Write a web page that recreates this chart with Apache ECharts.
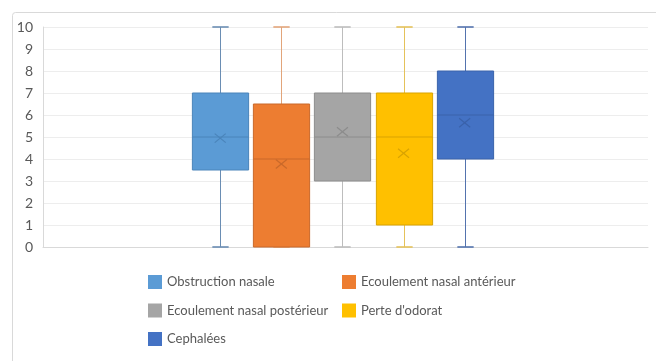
<!DOCTYPE html>
<html>
<head>
<meta charset="utf-8">
<script src="https://cdn.jsdelivr.net/npm/echarts@6/dist/echarts.min.js"></script>
<style>
html,body{margin:0;padding:0;background:#fff;}
#chart{width:656px;height:361px;}
</style>
</head>
<body>
<div id="chart"></div>
<script>
const categories = ['Obstruction nasale', 'Ecoulement nasal antérieur', 'Ecoulement nasal postérieur', "Perte d'odorat", 'Cephalées'];
const positions = [3, 4, 5, 6, 7];
const mins = [0, 0, 0, 0, 0];
const q1s = [3.5, 0, 3, 1, 4];
const medians = [5, 4, 5, 5, 6];
const q3s = [7, 6.5, 7, 7, 8];
const maxs = [10, 10, 10, 10, 10];
const means = [4.95, 3.77, 5.24, 4.26, 5.65];
const colors = ['#5B9BD5', '#ED7D31', '#A5A5A5', '#FFC000', '#4472C4'];
const borderColors = ['#4A84BA', '#C9692A', '#8C8C8C', '#D9A300', '#3A62AA'];
const whiskerColors = ['#6A8DB3', '#E2A57A', '#BDBDBD', '#E5C25A', '#5373AE'];
const yTicks = [0, 1, 2, 3, 4, 5, 6, 7, 8, 9, 10];

const chart = echarts.init(document.getElementById('chart'), null, {renderer: 'canvas'});

function makeRender(idx) {
  return function (params, api) {
    const x = api.value(0);
    const pMin = api.coord([x, api.value(1)]);
    const pQ1 = api.coord([x, api.value(2)]);
    const pMed = api.coord([x, api.value(3)]);
    const pQ3 = api.coord([x, api.value(4)]);
    const pMax = api.coord([x, api.value(5)]);
    const pMean = api.coord([x, api.value(6)]);
    const w = api.size([1, 0])[0] * 0.92;
    const cap = w * 0.29;
    const cx = Math.round(pMin[0]) + 0.5;
    const wc = whiskerColors[idx];
    const bc = borderColors[idx];
    const lineStyle = {stroke: wc, lineWidth: 1};
    const xs = 5.5, ys = 4.5;
    return {
      type: 'group',
      children: [
        {type: 'line', shape: {x1: cx, y1: pQ3[1], x2: cx, y2: pMax[1]}, style: lineStyle},
        {type: 'line', shape: {x1: cx, y1: pMin[1], x2: cx, y2: pQ1[1]}, style: lineStyle},
        {type: 'line', shape: {x1: cx - cap / 2, y1: pMax[1], x2: cx + cap / 2, y2: pMax[1]}, style: {stroke: wc, lineWidth: 1.6}},
        {type: 'line', shape: {x1: cx - cap / 2, y1: pMin[1], x2: cx + cap / 2, y2: pMin[1]}, style: {stroke: wc, lineWidth: 1.6}},
        {type: 'rect', shape: {x: cx - w / 2, y: pQ3[1], width: w, height: pQ1[1] - pQ3[1]},
          style: {fill: colors[idx], stroke: bc, lineWidth: 1}},
        {type: 'line', shape: {x1: cx - w / 2, y1: pMed[1], x2: cx + w / 2, y2: pMed[1]}, style: {stroke: bc, lineWidth: 1}},
        {type: 'line', shape: {x1: pMean[0] - xs, y1: pMean[1] - ys, x2: pMean[0] + xs, y2: pMean[1] + ys}, style: {stroke: bc, lineWidth: 1.2}},
        {type: 'line', shape: {x1: pMean[0] - xs, y1: pMean[1] + ys, x2: pMean[0] + xs, y2: pMean[1] - ys}, style: {stroke: bc, lineWidth: 1.2}}
      ]
    };
  };
}

const series = categories.map(function (name, i) {
  return {
    name: name,
    type: 'custom',
    renderItem: makeRender(i),
    itemStyle: {color: colors[i]},
    encode: {x: 0, y: [1, 2, 3, 4, 5, 6]},
    data: [[positions[i], mins[i], q1s[i], medians[i], q3s[i], maxs[i], means[i]]],
    silent: true
  };
});

const legendText = {color: '#595959', fontSize: 13, fontFamily: 'Lato'};

chart.setOption({
  animation: false,
  backgroundColor: '#fff',
  graphic: [{
    type: 'rect', left: 10, top: 10, silent: true, z: -10,
    shape: {width: 660, height: 360, r: 3},
    style: {fill: 'none', stroke: '#D9D9D9', lineWidth: 1}
  }],
  grid: {left: 43, right: 8, top: 27, bottom: 114, containLabel: false},
  xAxis: {
    type: 'value', min: 0.1, max: 10,
    axisLine: {show: true, onZero: false, lineStyle: {color: '#D9D9D9'}},
    axisTick: {show: false}, axisLabel: {show: false}, splitLine: {show: false}
  },
  yAxis: {
    type: 'value', min: yTicks[0], max: yTicks[yTicks.length - 1], interval: 1,
    axisLine: {show: true, lineStyle: {color: '#D9D9D9'}},
    axisTick: {show: false},
    axisLabel: {color: '#595959', fontSize: 14, fontFamily: 'Lato', margin: 10},
    splitLine: {show: true, lineStyle: {color: '#EDEDED'}}
  },
  legend: [{
    orient: 'vertical', left: 148, top: 275, padding: 0, itemWidth: 14, itemHeight: 14, itemGap: 14.5,
    icon: 'rect', textStyle: legendText,
    data: [categories[0], categories[2], categories[4]]
  }, {
    orient: 'vertical', left: 342, top: 275, padding: 0, itemWidth: 14, itemHeight: 14, itemGap: 14.5,
    icon: 'rect', textStyle: legendText,
    data: [categories[1], categories[3]]
  }],
  series: series
});
</script>
</body>
</html>
